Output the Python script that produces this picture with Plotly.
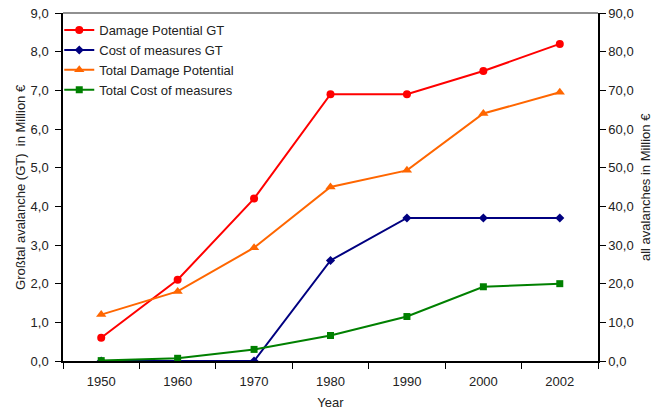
import plotly.graph_objects as go

years = ["1950", "1960", "1970", "1980", "1990", "2000", "2002"]
damage_gt = [0.6, 2.1, 4.2, 6.9, 6.9, 7.5, 8.2]
cost_gt = [0.0, 0.0, 0.0, 2.6, 3.7, 3.7, 3.7]
total_damage = [12.0, 18.0, 29.3, 45.0, 49.3, 64.0, 69.5]
total_cost = [0.1, 0.7, 3.0, 6.6, 11.5, 19.2, 20.0]

left_ticks = [i * 1.0 for i in range(10)]
right_ticks = [i * 10.0 for i in range(10)]

font = "Liberation Sans, Arial, sans-serif"

fig = go.Figure()
fig.add_trace(go.Scatter(x=years, y=damage_gt, name="Damage Potential GT", mode="lines+markers",
                         line=dict(color="#ff0000", width=2), marker=dict(symbol="circle", size=8, color="#ff0000")))
fig.add_trace(go.Scatter(x=years, y=cost_gt, name="Cost of measures GT", mode="lines+markers",
                         line=dict(color="#000080", width=2), marker=dict(symbol="diamond", size=7, color="#000080")))
fig.add_trace(go.Scatter(x=years, y=total_damage, name="Total Damage Potential", mode="lines+markers", yaxis="y2",
                         line=dict(color="#ff6600", width=2), marker=dict(symbol="triangle-up", size=9, color="#ff6600")))
fig.add_trace(go.Scatter(x=years, y=total_cost, name="Total Cost of measures", mode="lines+markers", yaxis="y2",
                         line=dict(color="#008000", width=2), marker=dict(symbol="square", size=7, color="#008000")))

fig.update_layout(
    width=662, height=411,
    margin=dict(l=63, r=64, t=13, b=50, autoexpand=False),
    paper_bgcolor="white", plot_bgcolor="white",
    font=dict(family=font, size=13, color="#222222"),
    separators=",.",
    showlegend=True,
    legend=dict(x=-0.007, y=0.994, xanchor="left", yanchor="top", bgcolor="rgba(0,0,0,0)",
                font=dict(size=13), tracegroupgap=0, itemwidth=30),
    xaxis=dict(type="category", range=[-0.5, 6.5], showline=True, linecolor="black", linewidth=1.5,
               ticks="outside", tickson="boundaries", ticklen=6, tickcolor="black", showgrid=False,
               zeroline=False, automargin=False, ticklabelstandoff=8,
               title=dict(text="Year", font=dict(size=13), standoff=10)),
    yaxis=dict(range=[0, 9], tickvals=left_ticks, tickformat=".1f", showline=True, linecolor="black",
               linewidth=1.5, ticks="outside", ticklen=6, tickcolor="black", showgrid=False, zeroline=False,
               automargin=False, ticklabelstandoff=4, ticklabeloverflow="allow"),
    yaxis2=dict(range=[0, 90], tickvals=right_ticks, tickformat=".1f", overlaying="y", side="right",
                showline=True, linecolor="black", linewidth=1.5, ticks="outside", ticklen=6, tickcolor="black",
                showgrid=False, zeroline=False, automargin=False, ticklabeloverflow="allow"),
    shapes=[dict(type="line", xref="paper", yref="paper", x0=0, x1=1, y0=1, y1=1,
                 line=dict(color="#909090", width=2))],
    annotations=[
        dict(text="Großtal avalanche (GT)  in Million €", xref="paper", yref="paper", x=-0.0804, y=0.5,
             xanchor="center", yanchor="middle", textangle=-90, showarrow=False, font=dict(size=13)),
        dict(text="all avalanches in Million €", xref="paper", yref="paper", x=1.0879, y=0.5,
             xanchor="center", yanchor="middle", textangle=-90, showarrow=False, font=dict(size=13)),
    ],
)

fig.write_html("out.html", config={"displayModeBar": False},
               post_script="document.body.style.margin='0';document.body.style.overflow='hidden';")
